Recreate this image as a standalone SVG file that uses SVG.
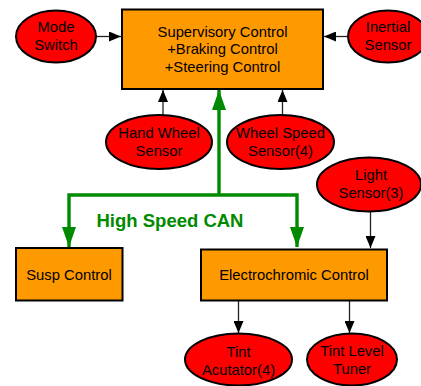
<svg xmlns="http://www.w3.org/2000/svg" width="421" height="386" viewBox="0 0 421 386">
<defs>
<style>
.box{fill:#ff9900;stroke:#000;stroke-width:2}
.ell{fill:#ff0000;stroke:#000;stroke-width:2}
.t{font-family:"Liberation Sans",Arial,sans-serif;font-size:14.8px;fill:#000;text-anchor:middle}
.c{stroke:#222;stroke-width:1.3;fill:none;marker-end:url(#ah)}
.g{stroke:#008a00;stroke-width:3.4;fill:none}
</style>
<marker id="ah" markerWidth="12" markerHeight="10" refX="12" refY="5" orient="auto" markerUnits="userSpaceOnUse">
<path d="M0,0 L12,5 L0,10 Z" fill="#000"/>
</marker>
<marker id="gh" markerWidth="20" markerHeight="14" refX="20" refY="7" orient="auto" markerUnits="userSpaceOnUse">
<path d="M0,0 L20,7 L0,14 Z" fill="#008a00"/>
</marker>
</defs>
<rect width="421" height="386" fill="#fff"/>
<g id="connectors">
<line class="c" x1="96" y1="36.5" x2="121" y2="36.5"/>
<line class="c" x1="348" y1="36.5" x2="324" y2="36.5"/>
<line class="c" x1="163" y1="115" x2="163" y2="90"/>
<line class="c" x1="282.5" y1="115" x2="282.5" y2="90"/>
<line class="c" x1="370.5" y1="211" x2="370.5" y2="248"/>
<line class="c" x1="238.5" y1="301" x2="238.5" y2="333"/>
<line class="c" x1="349.5" y1="301" x2="349.5" y2="333"/>
<path class="g" d="M219,195 L219,90" marker-end="url(#gh)"/>
<path class="g" d="M219,195 L69,195 L69,247" marker-end="url(#gh)"/>
<path class="g" d="M219,195 L297,195 L297,247" marker-end="url(#gh)"/>
<text x="170" y="226.5" style="font-family:'Liberation Sans',Arial,sans-serif;font-size:18.5px;font-weight:bold;fill:#008a00;text-anchor:middle">High Speed CAN</text>
</g>
<g id="supervisory">
<rect class="box" x="122" y="9.5" width="201" height="79.5"/>
<text class="t" x="222.5" y="36.5">Supervisory Control</text>
<text class="t" x="222.5" y="54.2">+Braking Control</text>
<text class="t" x="222.5" y="72">+Steering Control</text>
</g>
<g id="mode-switch">
<ellipse class="ell" cx="56" cy="36.5" rx="40" ry="26"/>
<text class="t" x="56" y="32.3">Mode</text>
<text class="t" x="56" y="50">Switch</text>
</g>
<g id="inertial-sensor">
<ellipse class="ell" cx="388" cy="36.5" rx="40" ry="26"/>
<text class="t" x="388" y="32.3">Inertial</text>
<text class="t" x="388" y="50">Sensor</text>
</g>
<g id="hand-wheel-sensor">
<ellipse class="ell" cx="159" cy="142" rx="53" ry="27"/>
<text class="t" x="159" y="138.3">Hand Wheel</text>
<text class="t" x="159" y="156">Sensor</text>
</g>
<g id="wheel-speed-sensor">
<ellipse class="ell" cx="280.5" cy="142" rx="53.5" ry="27"/>
<text class="t" x="280.5" y="138.3">Wheel Speed</text>
<text class="t" x="280.5" y="156">Sensor(4)</text>
</g>
<g id="light-sensor">
<ellipse class="ell" cx="369" cy="184.5" rx="52" ry="27"/>
<text class="t" x="371" y="180">Light</text>
<text class="t" x="371" y="197.5">Sensor(3)</text>
</g>
<g id="susp-control">
<rect class="box" x="16" y="248" width="106.5" height="52.5"/>
<text class="t" x="69" y="279.5">Susp Control</text>
</g>
<g id="electrochromic-control">
<rect class="box" x="201" y="249.5" width="186" height="51"/>
<text class="t" x="294" y="280">Electrochromic Control</text>
</g>
<g id="tint-actuator">
<ellipse class="ell" cx="238.5" cy="359.5" rx="53.5" ry="26"/>
<text class="t" x="238.5" y="356.5">Tint</text>
<text class="t" x="238.5" y="375">Acutator(4)</text>
</g>
<g id="tint-level-tuner">
<ellipse class="ell" cx="352" cy="359.5" rx="45" ry="26"/>
<text class="t" x="352" y="356">Tint Level</text>
<text class="t" x="352" y="374">Tuner</text>
</g>
</svg>
